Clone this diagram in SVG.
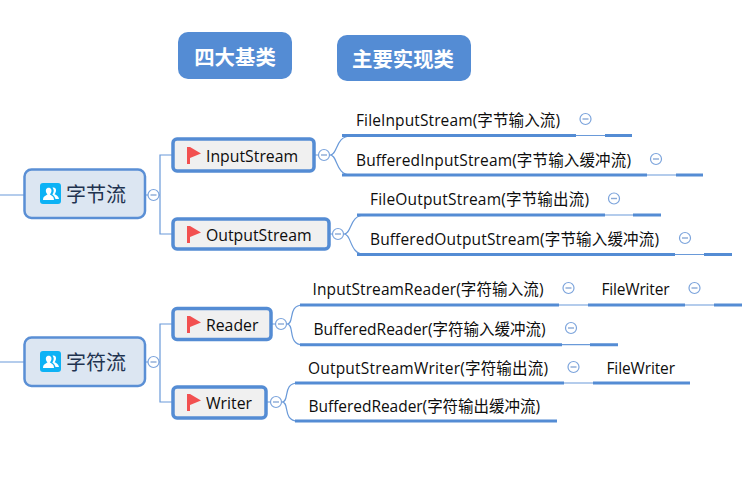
<svg xmlns="http://www.w3.org/2000/svg" width="744" height="485" viewBox="0 0 744 485">
<style>
text{font-family:"Open Sans","Noto Sans CJK SC",sans-serif;fill:#0d0d0d}
.l{font-size:15.5px}
.m{font-size:15.8px}
.r{font-size:20px;fill:#1f3350;font-family:"Noto Sans CJK SC",sans-serif}
.h{font-size:20.4px;font-weight:700;fill:#fff;font-family:"Noto Sans CJK SC",sans-serif;text-anchor:middle}
.hb{fill:#548cd4}
.root{fill:#dce6f2;stroke:#5a8fd5;stroke-width:2.5}
.sub{fill:#f0f0f0;stroke:#548cd4;stroke-width:3.5}
.thin{fill:none;stroke:#6a9ad9;stroke-width:1.2}
.thick{fill:none;stroke:#548cd4;stroke-width:3}
.c{fill:#fff;stroke:#7ca4dc;stroke-width:1.2}
.cm{stroke:#8aa9d6;stroke-width:1.4}
.flag{fill:#f25050}
.ib{fill:#0db2f5}
.ip{fill:#fff}
</style>
<defs>
<g id="flag"><rect x="0" y="0" width="3" height="17" class="flag"/><path d="M3 0L14 6.500L3 11Z" class="flag"/></g>
<g id="people"><rect width="21" height="21" rx="3" class="ib"/><path d="M3 17C3 13 6 12.500 7.500 11.500C6 10 5.500 8 6 6.500C6.800 4 10.500 4 11.300 6.500C11.800 8 11.300 10 9.800 11.500C11.500 12.500 14 13 14 17Z" class="ip"/><path d="M12.500 4.500C15 4 16.500 6 16 8C15.700 9.500 15 10.500 14.500 11.300C16 12 18.500 13 19 16L15.500 16C15 13.500 13.500 12.500 12.300 11.500C13.500 10 14 8 13.500 6.500Z" class="ip"/></g>
<g id="col"><circle r="5.500" class="c"/><path d="M-3 0H3" class="cm"/></g>
</defs>
<g id="connectors">
<path class="thin" d="M0 195H24M145 195H160M160 195V155H172M160 195V234H172"/>
<path class="thin" d="M0 362H24M145 362H160M160 362V324H172M160 362V402H172"/>
<path class="thin" d="M315 155H318M330 155C338 155 335 136 351 136M330 155C338 155 335 175 351 175"/>
<path class="thin" d="M330 234H332M344 234C352 234 349 215 365 215M344 234C352 234 349 254.500 365 254.500"/>
<path class="thin" d="M272 324H275M287 324C295 324 287 305 303 305M287 324C295 324 287 345 303 345"/>
<path class="thin" d="M267 402H270M282 402C290 402 282 383 298 383M282 402C290 402 282 421 298 421"/>
<path class="thick" d="M342 135.500H576M605 135.500H632M342 175H647M676 175H703M357 215H605M633 215H661M357 254.500H675M704 254.500H732"/>
<path class="thin" d="M576 135.500H605M647 175H676M605 215H633M675 254.500H704"/>
<path class="thick" d="M300 305H559M588 305H685M714 305H742M300 344.700H562M590 344.700H618M295 383H564M593 383H690M295 421H557"/>
<path class="thin" d="M559 305H588M685 305H714M562 344.700H590M564 383H593"/>
</g>
<g id="legend1"><rect x="178" y="32" width="114" height="47" rx="10" class="hb"/><text class="h" x="235" y="64.500">四大基类</text></g>
<g id="legend2"><rect x="337" y="35" width="134" height="46" rx="10" class="hb"/><text class="h" x="403" y="66.500">主要实现类</text></g>
<g id="n-byte"><rect x="24.500" y="169.500" width="120.500" height="48.500" rx="7" class="root"/><use href="#people" x="40" y="183"/><text class="r" x="66" y="202">字节流</text><use href="#col" x="153.500" y="195"/></g>
<g id="n-char"><rect x="24.500" y="337.500" width="120.500" height="48.500" rx="7" class="root"/><use href="#people" x="40" y="351"/><text class="r" x="66" y="370">字符流</text><use href="#col" x="153.500" y="362"/></g>
<g id="n-input"><rect x="173" y="139" width="141" height="32" rx="4" class="sub"/><use href="#flag" x="187" y="147"/><text class="m" x="206" y="162">InputStream</text><use href="#col" x="324" y="155"/></g>
<g id="n-output"><rect x="173" y="219" width="156" height="30" rx="4" class="sub"/><use href="#flag" x="187" y="226"/><text class="m" x="206" y="241">OutputStream</text><use href="#col" x="338" y="234"/></g>
<g id="n-reader"><rect x="173" y="308.500" width="98" height="31" rx="4" class="sub"/><use href="#flag" x="187" y="316"/><text class="m" x="206" y="331">Reader</text><use href="#col" x="281" y="324"/></g>
<g id="n-writer"><rect x="173" y="387" width="93" height="31" rx="4" class="sub"/><use href="#flag" x="187" y="394"/><text class="m" x="206" y="409">Writer</text><use href="#col" x="276" y="402"/></g>
<g id="t1"><text class="l" x="356" y="126" textLength="204">FileInputStream(字节输入流)</text><use href="#col" x="585.500" y="119"/></g>
<g id="t2"><text class="l" x="356" y="166" textLength="275">BufferedInputStream(字节输入缓冲流)</text><use href="#col" x="656" y="159"/></g>
<g id="t3"><text class="l" x="370" y="205" textLength="219">FileOutputStream(字节输出流)</text><use href="#col" x="614" y="198.500"/></g>
<g id="t4"><text class="l" x="370" y="245" textLength="289">BufferedOutputStream(字节输入缓冲流)</text><use href="#col" x="685" y="238"/></g>
<g id="t5"><text class="l" x="312.500" y="295" textLength="231">InputStreamReader(字符输入流)</text><use href="#col" x="568.500" y="288"/></g>
<g id="t6"><text class="l" x="601.500" y="295" textLength="68">FileWriter</text><use href="#col" x="694.500" y="288"/></g>
<g id="t7"><text class="l" x="313.500" y="335" textLength="232">BufferedReader(字符输入缓冲流)</text><use href="#col" x="571" y="328"/></g>
<g id="t8"><text class="l" x="308" y="373.500" textLength="240">OutputStreamWriter(字符输出流)</text><use href="#col" x="573.500" y="367"/></g>
<g id="t9"><text class="l" x="606.500" y="373.500" textLength="68.500">FileWriter</text></g>
<g id="t10"><text class="l" x="308.500" y="412" textLength="231.500">BufferedReader(字符输出缓冲流)</text></g>
</svg>
